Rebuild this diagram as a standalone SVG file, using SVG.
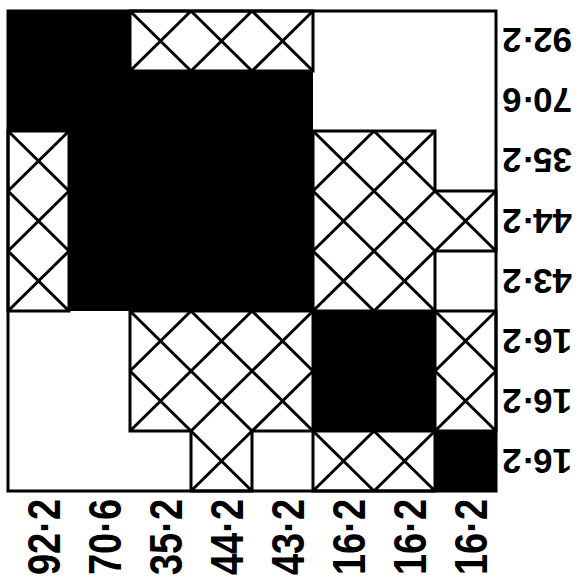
<svg xmlns="http://www.w3.org/2000/svg" width="580" height="580" viewBox="0 0 580 580">
<style>
.bg{fill:#fff}
.blk{fill:#000}
.ln{fill:none;stroke:#000;stroke-width:3;stroke-linejoin:miter}
.x{fill:none;stroke:#000;stroke-width:3}
.lbl{font-family:"Liberation Sans",Arial,sans-serif;font-weight:bold;fill:#000;text-anchor:middle}
.r{font-size:35px}
.b{font-size:38px}
</style>
<rect class="bg" x="0" y="0" width="580" height="580"/>
<g id="black-cells">
<path class="blk" d="M8 11 H130 V71 H313 V311 H69 V131 H8 Z"/>
<rect class="blk" x="313" y="311" width="122" height="120"/>
<rect class="blk" x="435" y="431" width="61" height="60"/>
</g>
<g id="hatch">
<path class="x" d="
M130 11 L191 71 M191 11 L130 71
M191 11 L252 71 M252 11 L191 71
M252 11 L313 71 M313 11 L252 71
M8 131 L69 191 M69 131 L8 191
M8 191 L69 251 M69 191 L8 251
M8 251 L69 311 M69 251 L8 311
M313 131 L374 191 M374 131 L313 191
M374 131 L435 191 M435 131 L374 191
M313 191 L374 251 M374 191 L313 251
M374 191 L435 251 M435 191 L374 251
M435 191 L496 251 M496 191 L435 251
M313 251 L374 311 M374 251 L313 311
M374 251 L435 311 M435 251 L374 311
M130 311 L191 371 M191 311 L130 371
M191 311 L252 371 M252 311 L191 371
M252 311 L313 371 M313 311 L252 371
M130 371 L191 431 M191 371 L130 431
M191 371 L252 431 M252 371 L191 431
M252 371 L313 431 M313 371 L252 431
M191 431 L252 491 M252 431 L191 491
M435 311 L496 371 M496 311 L435 371
M435 371 L496 431 M496 371 L435 431
M313 431 L374 491 M374 431 L313 491
M374 431 L435 491 M435 431 L374 491"/>
</g>
<g id="outlines">
<path class="ln" d="M130 11 H313 V71 H130 Z"/>
<path class="ln" d="M8 131 H69 V311 H8 Z"/>
<path class="ln" d="M313 131 H435 V191 H496 V251 H435 V311 H313 Z"/>
<path class="ln" d="M130 311 H313 V431 H252 V491 H191 V431 H130 Z"/>
<path class="ln" d="M435 311 H496 V431 H435 Z"/>
<path class="ln" d="M313 431 H435 V491 H313 Z"/>
<rect class="ln" x="8" y="11" width="488" height="480"/>
</g>
<g id="row-labels">
<text class="lbl r" transform="translate(537,40) rotate(180)" x="0" y="12.5">92·2</text>
<text class="lbl r" transform="translate(537,100) rotate(180)" x="0" y="12.5">70·6</text>
<text class="lbl r" transform="translate(537,160) rotate(180)" x="0" y="12.5">35·2</text>
<text class="lbl r" transform="translate(537,221) rotate(180)" x="0" y="12.5">44·2</text>
<text class="lbl r" transform="translate(537,281) rotate(180)" x="0" y="12.5">43·2</text>
<text class="lbl r" transform="translate(537,341) rotate(180)" x="0" y="12.5">16·2</text>
<text class="lbl r" transform="translate(537,401) rotate(180)" x="0" y="12.5">16·2</text>
<text class="lbl r" transform="translate(537,461) rotate(180)" x="0" y="12.5">16·2</text>
</g>
<g id="column-labels">
<text class="lbl b" transform="translate(44,537) rotate(-90) scale(1,1.2)" x="0" y="13.6">92·2</text>
<text class="lbl b" transform="translate(105,537) rotate(-90) scale(1,1.2)" x="0" y="13.6">70·6</text>
<text class="lbl b" transform="translate(166,537) rotate(-90) scale(1,1.2)" x="0" y="13.6">35·2</text>
<text class="lbl b" transform="translate(227,537) rotate(-90) scale(1,1.2)" x="0" y="13.6">44·2</text>
<text class="lbl b" transform="translate(288,537) rotate(-90) scale(1,1.2)" x="0" y="13.6">43·2</text>
<text class="lbl b" transform="translate(349,537) rotate(-90) scale(1,1.2)" x="0" y="13.6">16·2</text>
<text class="lbl b" transform="translate(410,537) rotate(-90) scale(1,1.2)" x="0" y="13.6">16·2</text>
<text class="lbl b" transform="translate(471,537) rotate(-90) scale(1,1.2)" x="0" y="13.6">16·2</text>
</g>
</svg>
